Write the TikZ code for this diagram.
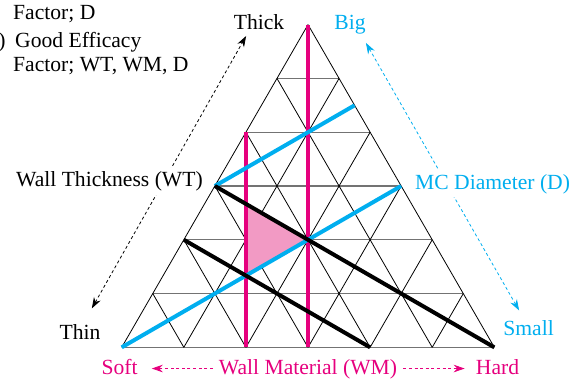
\documentclass[tikz,border=0pt]{standalone}
\usepackage{fontspec}
\setmainfont{Liberation Serif}
\newfontfamily\serifsix{Liberation Serif}
\usetikzlibrary{arrows.meta}
\definecolor{rose}{RGB}{230,0,126}
\definecolor{rosepale}{RGB}{242,154,196}
\definecolor{bleu}{RGB}{0,174,239}
\tikzset{
  fort/.style={line width=4bp},
  fin/.style={line width=0.8bp},
  pointe/.tip={Stealth[length=11bp, width=7.5bp]},
  etiq/.style={font=\serifsix\fontsize{21.6bp}{26bp}\selectfont, inner sep=2bp,
    text height=15bp, text depth=4bp, anchor=base},
  fleche/.style={line width=0.8bp, dash pattern=on 3bp off 2.6bp, -pointe},
}
\newcommand{\rangee}[1]{\draw[line width=1.2bp, black!55] (60:#1) --++ (6-#1,0)}
\newcommand{\montee}[1]{\draw[fin] (#1,0) --++ (60:6-#1)}
\newcommand{\descente}[1]{\draw[fin] (#1,0) --++ (120:#1)}

\begin{document}
\begin{tikzpicture}[x=62.1bp, y=62.1bp]
\useasboundingbox (-1.960,-0.494) rectangle (7.428,5.593);
%Grid
	\foreach \k in {0,...,5} {\rangee{\k};}
	\foreach \k in {0,...,5} {\montee{\k};}
	\foreach \k in {1,...,6} {\descente{\k};}
%Good efficacy zone
	\fill[rosepale] (2,1.1547) -- (2,2.3094) -- (3,1.7321) -- cycle;
%Wall material
	\draw[fort, rose] (3,0) -- (60:6);
	\draw[fort, rose] (2,0) -- (60:4);
%MC diameter
	\draw[fort, bleu] (0,0) --++ (30:5.196);
	\draw[fort, bleu] (60:3) --++ (30:2.598);
%Wall thickness
	\draw[fort] (60:3) -- (6,0);
	\draw[fort] (60:2) -- (4,0);
%Ends of the axes
	\node[etiq] (thick) at (2.211,5.121) {Thick};
	\node[etiq, bleu] (big) at (3.676,5.121) {Big};
	\node[etiq] (thin) at (-0.671,0.118) {Thin};
	\node[etiq, bleu] (small) at (6.551,0.198) {Small};
	\node[etiq, rose] (soft) at (-0.035,-0.430) {Soft};
	\node[etiq, rose, inner xsep=6bp] (wm) at (3,-0.430) {Wall Material (WM)};
	\node[etiq, rose] (hard) at (6.051,-0.430) {Hard};
%Arrows
	\draw[fleche, pointe-pointe, shorten <=30bp, shorten >=14bp]
		([xshift=-3bp]thin.center) -- ([xshift=-6bp]thick.center);
	\draw[fleche, bleu, pointe-pointe, shorten <=22bp, shorten >=22bp]
		([xshift=1.5bp]small.center) -- ([xshift=5bp]big.center);
	\draw[fleche, rose, shorten >=12bp] (wm) -- (soft);
	\draw[fleche, rose, shorten >=9bp] (wm) -- (hard);
%Axis names
	\node[etiq, fill=white, anchor=base east, inner ysep=4bp] (wt) at (1.340,2.586) {Wall Thickness (WT)};
	\node[etiq, bleu, fill=white, anchor=base west, inner ysep=4bp] (mcd) at (4.691,2.544) {MC Diameter (D)};
%Legend
	\node[etiq, inner sep=0, anchor=base west] (leg1) at (-1.750,5.271) {Factor; D};
	\node[etiq, inner sep=0, anchor=base west] (leg2) at (-1.989,4.825) {)\hspace{9.6bp}Good Efficacy};
	\node[etiq, inner sep=0, anchor=base west] (leg3) at (-1.750,4.449) {Factor; WT, WM, D};
\end{tikzpicture}
\end{document}
